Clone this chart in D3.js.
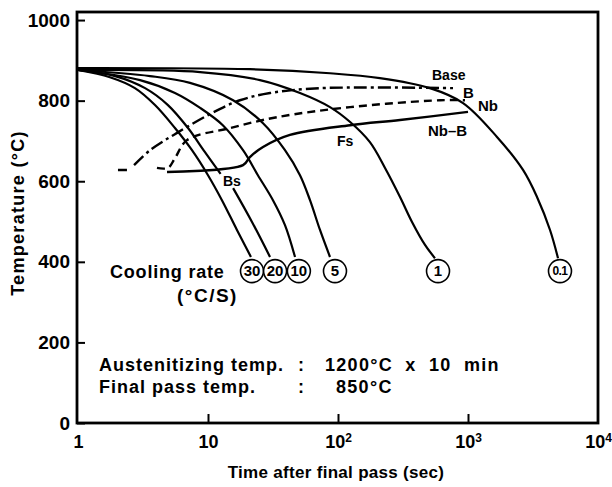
<!DOCTYPE html>
<html>
<head>
<meta charset="utf-8">
<script src="https://cdn.jsdelivr.net/npm/d3@7"></script>
<style>
  body { margin: 0; background: #fff; }
  text { font-family: "Liberation Sans", Arial, sans-serif; font-weight: bold; fill: #000; }
</style>
</head>
<body>
<svg id="cct" width="612" height="487"></svg>
<script>
// cooling curves after the final pass, [time (s), temperature (°C)]
var rate30 = [[1,876],[1.76,858],[2.74,831],[3.91,789],[5.57,732],[7.53,677],[10,615],[12.8,553],[16.7,479],[21.4,412]];
var rate20 = [[1,876],[1.93,861],[3.28,831],[4.92,789],[7.02,732],[9.48,672],[12.5,618],null,[15.6,583],[21.8,499],[30,412]];
var rate10 = [[1,876],[3,851],[5.57,819],[8.7,782],[13,739],[18.6,677],[24.2,615],[31.6,553],[39.1,491],[46.7,412]];
var rate5 = [[1,876],[3.58,861],[7.27,844],[15.6,801],[26.5,744],[39.1,677],[51,615],[60.9,553],[72.7,479],[86.8,412]];
var rate1 = [[1,876],[8.7,871],[25.1,851],[51,819],[86.8,784],[124,747],[176,697],[230,633],[300,561],[371,499],[467,442],[557,409]];
var rate01 = [[1,881],[21,878],[86.8,868],[210,856],[510,831],[916,794],[1671,710],[2650,628],[3395,561],[4275,479],[4925,409]];

// transformation start lines for each steel
var lineB = [[2.03,628],[2.38,628],null,[2.7,640],[3.58,677],[5.78,720],[10.4,767],[17.6,801],[30,819],[72.7,831],[767,831]];
var lineNb = [[4.05,633],[4.92,633],[5.57,657],[6.89,702],[14.8,732],[34,759],[124,784],[609,801],[948,801]];
var lineNbB = [[4.84,623],[18.6,640],[21,660],[26.5,685],[42.7,715],[124,739],[300,752],[1000,772]];

var rateLabels = ["30","20","10","5","1","0.1"];
var rateLabelTimes = [21.8,32.8,50,94.8,588,5100];
var rateLabelTemp = 377;

var yTicks = [0,200,400,600,800,1000];
var xTicks = [1,10,100,1000,10000];

var svg = d3.select("#cct");
var frameL = 77, frameR = 598, frameT = 12, frameB = 423;

var x = d3.scaleLog().domain([1,10000]).range([frameL+1, frameR]);
var y = d3.scaleLinear().domain([0,1020]).range([frameB, frameT]);

var line = d3.line()
  .defined(function(d){ return d !== null; })
  .x(function(d){ return x(d[0]); })
  .y(function(d){ return y(d[1]); })
  .curve(d3.curveCatmullRom.alpha(0.5));

// axes, ticks pointing into the frame
var yAxis = svg.append("g")
  .attr("transform", "translate(" + frameL + ",0)")
  .call(d3.axisLeft(y).tickValues(yTicks).tickSize(-8).tickPadding(7).tickFormat(d3.format("d")));
yAxis.select(".domain").remove();
yAxis.selectAll("line").attr("stroke-width", 2);
yAxis.selectAll("text").style("font-size", "19px").attr("font-family", null);

var xAxis = svg.append("g")
  .attr("transform", "translate(0," + frameB + ")")
  .call(d3.axisBottom(x).tickValues(xTicks).tickSize(-9).tickPadding(12).tickFormat(""));
xAxis.select(".domain").remove();
xAxis.selectAll("line").attr("stroke-width", 2)
  .attr("opacity", function(d){ return (d === 1 || d === 10000) ? 0 : 1; });
xAxis.selectAll("text").each(function(d){
  var t = d3.select(this).style("font-size", "18px").attr("font-family", null);
  var e = Math.round(Math.log10(d));
  if (e < 2) { t.text(d); return; }
  t.append("tspan").text("10");
  t.append("tspan").attr("dy", "-0.45em").style("font-size", "12px").text(e);
});

// frame
svg.append("rect")
  .attr("x", frameL).attr("y", frameT)
  .attr("width", frameR - frameL).attr("height", frameB - frameT)
  .attr("fill", "none").attr("stroke", "#000").attr("stroke-width", 2.8);

// cooling curves
svg.selectAll(".cool")
  .data([rate30, rate20, rate10, rate5, rate1, rate01])
  .enter().append("path")
  .attr("class", "cool")
  .attr("d", line)
  .attr("fill", "none").attr("stroke", "#000").attr("stroke-width", 2.2);

// steel transformation lines
var styles = [
  { data: lineB, dash: "13,4,3,4" },
  { data: lineNb, dash: "8,5" },
  { data: lineNbB, dash: null }
];
styles.forEach(function(s){
  svg.append("path")
    .attr("d", line(s.data))
    .attr("fill", "none").attr("stroke", "#000").attr("stroke-width", 2.4)
    .attr("stroke-dasharray", s.dash);
});

// circled cooling rates
var tags = svg.selectAll(".tag")
  .data(rateLabels)
  .enter().append("g")
  .attr("class", "tag")
  .attr("transform", function(d, i){ return "translate(" + x(rateLabelTimes[i]) + "," + y(rateLabelTemp) + ")"; });
tags.append("circle").attr("r", 11.5).attr("fill", "#fff").attr("stroke", "#000").attr("stroke-width", 1.6);
tags.append("text").attr("text-anchor", "middle").attr("dy", "0.36em")
  .style("font-size", function(d){ return d.length > 2 ? "12px" : "15px"; })
  .style("letter-spacing", function(d){ return d.length > 2 ? "-0.6px" : null; })
  .text(function(d){ return d; });

// annotations
function note(tx, ty, str, size, spacing, anchor) {
  return svg.append("text").attr("x", tx).attr("y", ty)
    .attr("text-anchor", anchor || "start")
    .style("letter-spacing", spacing ? spacing + "px" : null)
    .style("font-size", size + "px").text(str);
}
note(110, 278, "Cooling rate", 18, 0.8);
note(177, 302, "(°C/S)", 19, 1.5);
note(223, 186, "Bs", 14);
note(337, 146, "Fs", 14);
note(432, 80, "Base", 14);
note(463, 98, "B", 15);
note(478, 111, "Nb", 15);
note(428, 136, "Nb–B", 15);

note(99, 371, "Austenitizing temp.", 18, 1);
note(99, 393, "Final pass temp.", 18, 1);
note(298, 371, ":", 18);
note(298, 393, ":", 18);
note(325, 371, "1200°C x 10 min", 18, 1.3).style("word-spacing", "6px");
note(336, 393, "850°C", 18, 1.3);

// axis titles
note(336, 478, "Time after final pass (sec)", 17, 0.3, "middle");
svg.append("text")
  .attr("transform", "translate(24,213) rotate(-90)")
  .attr("text-anchor", "middle")
  .style("font-size", "18px")
  .style("letter-spacing", "1.3px")
  .text("Temperature (°C)");
</script>
</body>
</html>
